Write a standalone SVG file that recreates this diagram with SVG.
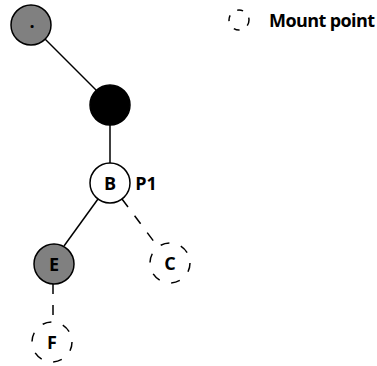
<svg xmlns="http://www.w3.org/2000/svg" width="377" height="366" viewBox="0 0 377 366">
<style>
.n{stroke:#000;stroke-width:1.5}
.d{fill:none;stroke:#000;stroke-width:1.5;stroke-dasharray:9 12}
.e{stroke:#000;stroke-width:1.5;fill:none}
.ed{stroke:#000;stroke-width:1.5;fill:none;stroke-dasharray:10 11}
.t{font-family:"Open Sans","Liberation Sans",sans-serif;font-weight:bold;font-size:18px;text-anchor:middle}
</style>
<rect width="377" height="366" fill="#fff"/>
<g id="connectors">
<line class="e" x1="45" y1="39" x2="97" y2="91"/>
<line class="e" x1="110" y1="125" x2="110" y2="163"/>
<line class="e" x1="98" y1="199" x2="64" y2="246"/>
<line class="ed" x1="122" y1="199" x2="158" y2="247"/>
<line class="ed" x1="53" y1="284" x2="53" y2="322"/>
</g>
<g id="root"><circle class="n" cx="31" cy="25" r="20" fill="#808080"/><text class="t" x="32" y="28">.</text></g>
<g id="A"><circle class="n" cx="110" cy="105" r="20" fill="#000"/></g>
<g id="B"><circle class="n" cx="110" cy="183" r="20" fill="#fff"/><text class="t" x="110" y="190">B</text><text class="t" x="146" y="190">P1</text></g>
<g id="E"><circle class="n" cx="54" cy="264" r="20" fill="#808080"/><text class="t" x="54" y="271">E</text></g>
<g id="C"><circle class="d" cx="170" cy="263" r="20"/><text class="t" x="170" y="270">C</text></g>
<g id="F"><circle class="d" cx="52" cy="342" r="20"/><text class="t" x="52" y="349">F</text></g>
<g id="legend"><circle class="d" cx="239" cy="20" r="10" style="stroke-dasharray:6 9"/><text class="t" x="269" y="27" style="text-anchor:start" textLength="106">Mount point</text></g>
</svg>
